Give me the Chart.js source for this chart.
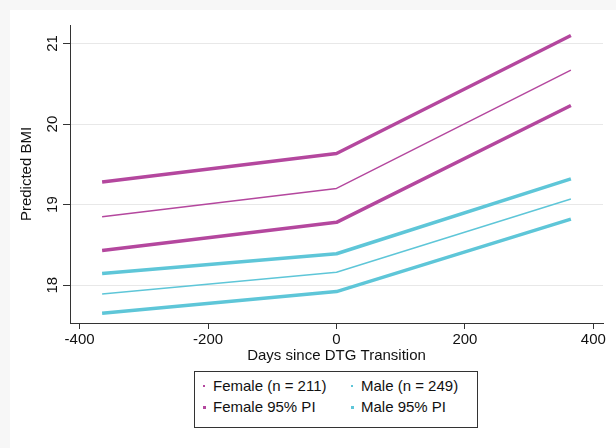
<!DOCTYPE html>
<html>
<head>
<meta charset="utf-8">
<script src="https://cdn.jsdelivr.net/npm/chart.js@4"></script>
<style>
  html, body { margin: 0; padding: 0; }
  body { width: 616px; height: 448px; background: #f7f7f7; position: relative; overflow: hidden;
         font-family: "Liberation Sans", Arial, sans-serif; }
  #panel { position: absolute; left: 10px; top: 10px; right: 0; bottom: 0; background: #fff; }
  #myChart { position: absolute; left: 0; top: 0; }
  #legend { position: absolute; left: 194px; top: 371px; width: 282px; height: 55px;
            border: 1px solid #333; background: #fff; font-size: 15px; color: #111; }
  .leg-item { position: absolute; height: 20px; line-height: 20px; white-space: nowrap; }
  .leg-mark { position: absolute; top: 50%; display: block; }
</style>
</head>
<body>
<div id="panel"></div>
<canvas id="myChart" width="616" height="448"></canvas>
<div id="legend"></div>
<script>
// x values (days since DTG transition)
const days = [-365, 0, 365];

// predicted BMI
const femaleFit = [18.85, 19.20, 20.67];
const femaleUpper = [19.28, 19.635, 21.10];
const femaleLower = [18.43, 18.78, 20.23];
const maleFit = [17.89, 18.16, 19.07];
const maleUpper = [18.145, 18.39, 19.32];
const maleLower = [17.65, 17.92, 18.82];

const xTicks = [-400, -200, 0, 200, 400];
const yTicks = [18, 19, 20, 21];

const femaleColor = '#b4479e';
const maleColor = '#5ec6d8';

function toPoints(values) {
    return values.map((v, i) => ({ x: days[i], y: v }));
}

function lineSet(label, values, color, width) {
    return {
        label: label,
        data: toPoints(values),
        borderColor: color,
        backgroundColor: color,
        borderWidth: width,
        pointRadius: 0,
        tension: 0,
        borderJoinStyle: 'round'
    };
}

const datasets = [
    lineSet('Female 95% PI', femaleUpper, femaleColor, 3.5),
    lineSet('Female (n = 211)', femaleFit, femaleColor, 1.4),
    lineSet('Female 95% PI', femaleLower, femaleColor, 3.5),
    lineSet('Male 95% PI', maleUpper, maleColor, 3.5),
    lineSet('Male (n = 249)', maleFit, maleColor, 1.4),
    lineSet('Male 95% PI', maleLower, maleColor, 3.5)
];

// rotated y tick labels (Chart.js won't rotate labels on a vertical axis)
const yLabelPlugin = {
    id: 'yLabels',
    afterDraw(chart) {
        const yScale = chart.scales.y;
        const ctx = chart.ctx;
        ctx.save();
        ctx.font = '15px "Liberation Sans", Arial, sans-serif';
        ctx.fillStyle = '#111';
        ctx.textAlign = 'center';
        ctx.textBaseline = 'middle';
        yTicks.forEach(v => {
            const py = yScale.getPixelForValue(v);
            ctx.save();
            ctx.translate(yScale.right - 18, py);
            ctx.rotate(-Math.PI / 2);
            ctx.fillText(String(v), 0, 1);
            ctx.restore();
        });
        ctx.restore();
    }
};

const ctx = document.getElementById('myChart').getContext('2d');
new Chart(ctx, {
    type: 'line',
    data: { datasets: datasets },
    plugins: [yLabelPlugin],
    options: {
        responsive: false,
        animation: false,
        layout: { padding: { left: 0, top: 25, right: 13, bottom: 80 } },
        plugins: { legend: { display: false }, tooltip: { enabled: false } },
        scales: {
            x: {
                type: 'linear',
                min: -415,
                max: 415,
                afterBuildTicks: scale => { scale.ticks = xTicks.map(v => ({ value: v })); },
                afterFit: scale => { scale.height = 45; scale.paddingLeft = 0; scale.paddingRight = 0; },
                grid: { drawOnChartArea: false, drawTicks: true, tickLength: 6, tickColor: '#333' },
                border: { color: '#333', width: 1 },
                ticks: {
                    color: '#111',
                    padding: 2,
                    maxRotation: 0,
                    font: { family: '"Liberation Sans", Arial, sans-serif', size: 15 }
                },
                title: {
                    display: true,
                    text: 'Days since DTG Transition',
                    color: '#111',
                    padding: { top: 0, bottom: 3 },
                    font: { family: '"Liberation Sans", Arial, sans-serif', size: 15 }
                }
            },
            y: {
                min: 17.53,
                max: 21.23,
                afterBuildTicks: scale => { scale.ticks = yTicks.map(v => ({ value: v })); },
                afterFit: scale => { scale.width = 70; scale.paddingTop = 0; scale.paddingBottom = 0; },
                grid: { color: '#e8e8e8', lineWidth: 1, drawTicks: true, tickLength: 7, tickColor: '#333' },
                border: { color: '#333', width: 1 },
                ticks: { color: 'rgba(0,0,0,0)', font: { size: 15 } },
                title: {
                    display: true,
                    text: 'Predicted BMI',
                    color: '#111',
                    padding: { top: 18, bottom: 0 },
                    font: { family: '"Liberation Sans", Arial, sans-serif', size: 15 }
                }
            }
        }
    }
});

// legend box below the plot, built from the dataset styles
const legendItems = [
    { text: 'Female (n = 211)', color: femaleColor, size: 2, left: 8, top: 4 },
    { text: 'Male (n = 249)', color: maleColor, size: 2, left: 156, top: 4 },
    { text: 'Female 95% PI', color: femaleColor, size: 3, left: 8, top: 25 },
    { text: 'Male 95% PI', color: maleColor, size: 3, left: 156, top: 25 }
];
const legendBox = document.getElementById('legend');
legendItems.forEach(item => {
    const div = document.createElement('div');
    div.className = 'leg-item';
    div.style.left = item.left + 'px';
    div.style.top = item.top + 'px';
    const mark = document.createElement('span');
    mark.className = 'leg-mark';
    mark.style.width = item.size + 'px';
    mark.style.height = item.size + 'px';
    mark.style.left = '0px';
    mark.style.marginTop = (-item.size / 2) + 'px';
    mark.style.background = item.color;
    const label = document.createElement('span');
    label.textContent = item.text;
    label.style.marginLeft = '10px';
    div.appendChild(mark);
    div.appendChild(label);
    legendBox.appendChild(div);
});
</script>
</body>
</html>
